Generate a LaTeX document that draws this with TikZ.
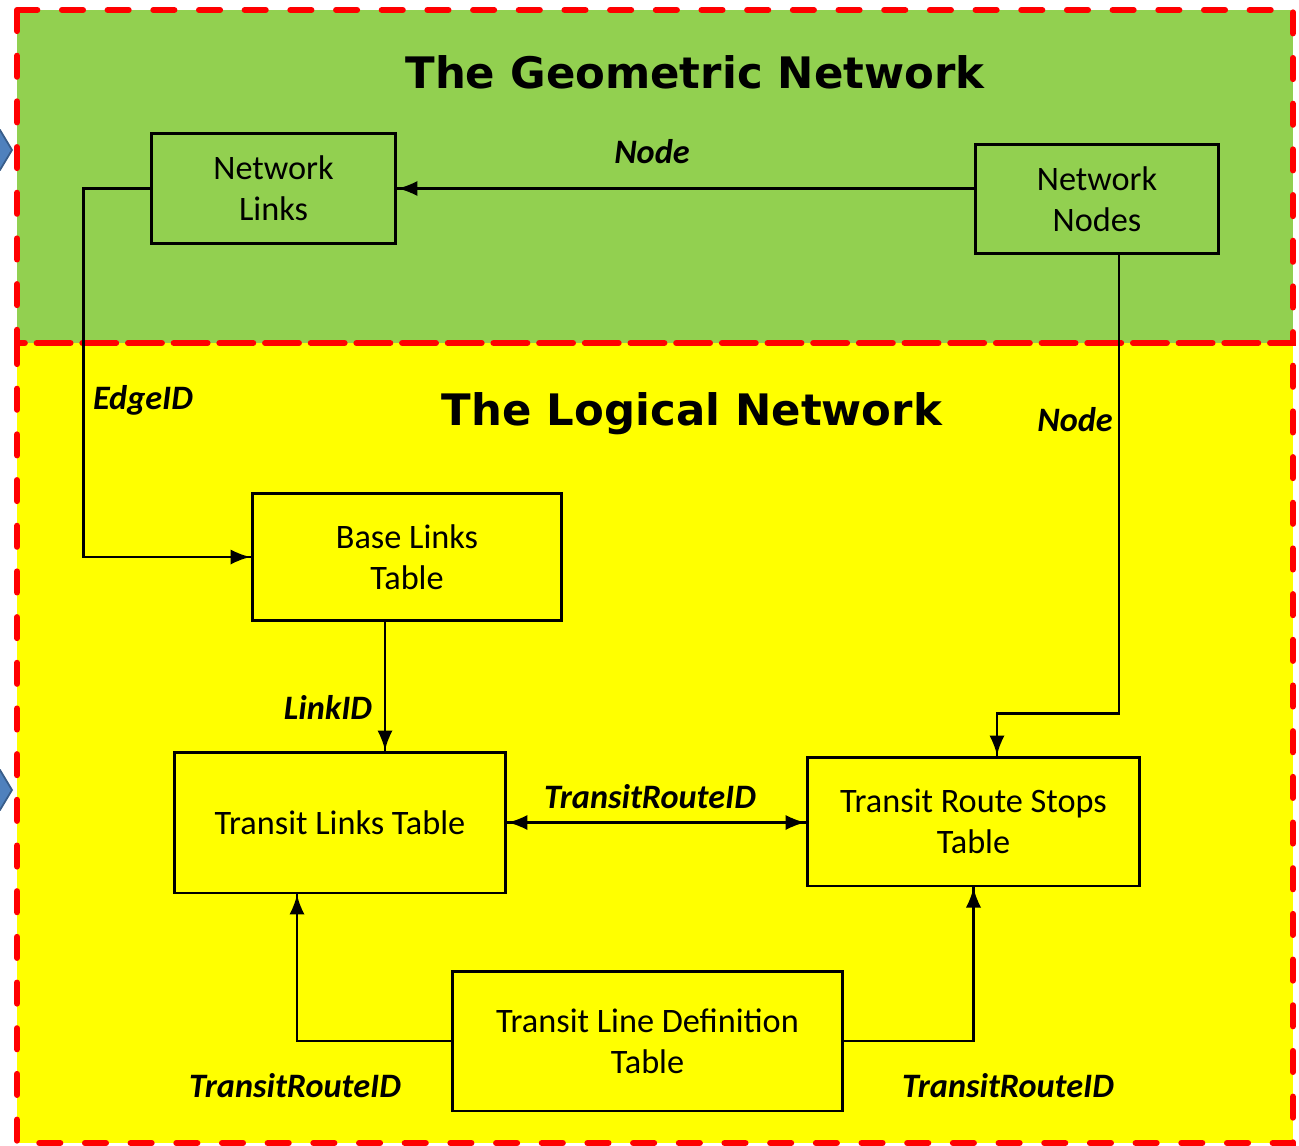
\documentclass[tikz,border=0pt]{standalone}
\usepackage{fontspec}
\setmainfont{Carlito}
\newfontfamily\titlefont{DejaVu Sans}
\usetikzlibrary{arrows,decorations.markings,positioning}
\definecolor{geogreen}{RGB}{146,208,80}
\definecolor{logyellow}{RGB}{255,255,0}
\definecolor{chevblue}{RGB}{79,129,189}
\definecolor{chevedge}{RGB}{56,93,138}
\tikzset{
    >=latex,
    arrowfwd/.style={line width=1.3pt,decoration={markings,mark=at position 1 with {\arrow[scale=1.7]{>}}},postaction={decorate}},
    arrowboth/.style={line width=1.3pt,decoration={markings,mark=at position 0 with {\arrowreversed[scale=1.7]{>}},mark=at position 1 with {\arrow[scale=1.7]{>}}},postaction={decorate}},
    regionbox/.style={draw=red,line width=3.4pt,dash pattern=on 12pt off 14pt,line cap=round},
    recnet/.style={draw,line width=1.7pt,align=center,text=black,inner sep=0pt,font=\fontsize{19.5}{23.5}\selectfont},
    title/.style={inner sep=0pt,font=\titlefont\bfseries\fontsize{24.7}{30}\selectfont},
    keylabel/.style={inner sep=0pt,font=\bfseries\itshape\fontsize{19.5}{23.5}\selectfont},
    chevron/.style={fill=chevblue,draw=chevedge,line width=1pt}
}

\begin{document}
\begin{tikzpicture}[x=0.02cm,y=-0.02cm]
        \useasboundingbox (0,0) rectangle (1299,1146);
        \fill[white] (0,0) rectangle (1299,1146);

        % cut-off chevrons on the left edge
        \draw[chevron] (-14,130) -- (0,130) -- (12,150) -- (0,170) -- (-14,170) -- cycle;
        \draw[chevron] (-14,770) -- (0,770) -- (12,790) -- (0,810) -- (-14,810) -- cycle;

        \fill[geogreen] (17,10) rectangle (1293,343);
        \fill[logyellow] (17,343) rectangle (1293,1143);
        \draw[regionbox] (17,10) rectangle (1293,343);
        \draw[regionbox] (17,343) rectangle (1293,1143);

        \node[title] (geotitle) at (695,72) {The Geometric Network};
        \node[title] (logtitle) at (692,414) {The Logical Network};

        \node[recnet,minimum width=4.9cm,minimum height=2.22cm] (netlinks) at (273.5,188.5) {Network\\Links};
        \node[recnet,minimum width=4.88cm,minimum height=2.2cm] (netnodes) at (1097,199) {Network\\Nodes};
        \node[recnet,minimum width=6.2cm,minimum height=2.56cm] (baselinks) at (407,557) {Base Links\\Table};
        \node[recnet,minimum width=6.64cm,minimum height=2.82cm] (translinks) at (340,822.5) {Transit Links Table};
        \node[recnet,minimum width=6.66cm,minimum height=2.58cm] (stops) at (973.5,821.5) {Transit Route Stops\\Table};
        \node[recnet,minimum width=7.82cm,minimum height=2.8cm] (linedef) at (647.5,1041) {Transit Line Definition\\Table};

        \node[keylabel] (lblnode) at (652,152) {Node};
        \node[keylabel] (lbledge) at (143,400) {EdgeID};
        \node[keylabel] (lblnode2) at (1075,420) {Node};
        \node[keylabel] (lbllink) at (328,707) {LinkID};
        \node[keylabel] (lblroute) at (650,797) {TransitRouteID};
        \node[keylabel] (lblroute2) at (295,1086) {TransitRouteID};
        \node[keylabel] (lblroute3) at (1008,1086) {TransitRouteID};

        \begin{scope}
            \draw[arrowfwd] (netlinks.east -| netnodes.west) -- (netlinks.east);
            \draw[arrowfwd] (netlinks.west) -- ++(-66,0) |- (baselinks.west);
            \draw[arrowfwd] ([xshift=0.44cm]netnodes.south) -- ++(0,458) -| ([xshift=0.47cm]stops.north);
            \draw[arrowfwd] ([xshift=-0.44cm]baselinks.south) -- ([xshift=-0.44cm]baselinks.south |- translinks.north);
            \draw[arrowboth] (translinks.east) -- (translinks.east -| stops.west);
            \draw[arrowfwd] (linedef.west) -| ([xshift=-0.86cm]translinks.south);
            \draw[arrowfwd] (linedef.east) -| (stops.south);
        \end{scope}
\end{tikzpicture}
\end{document}
